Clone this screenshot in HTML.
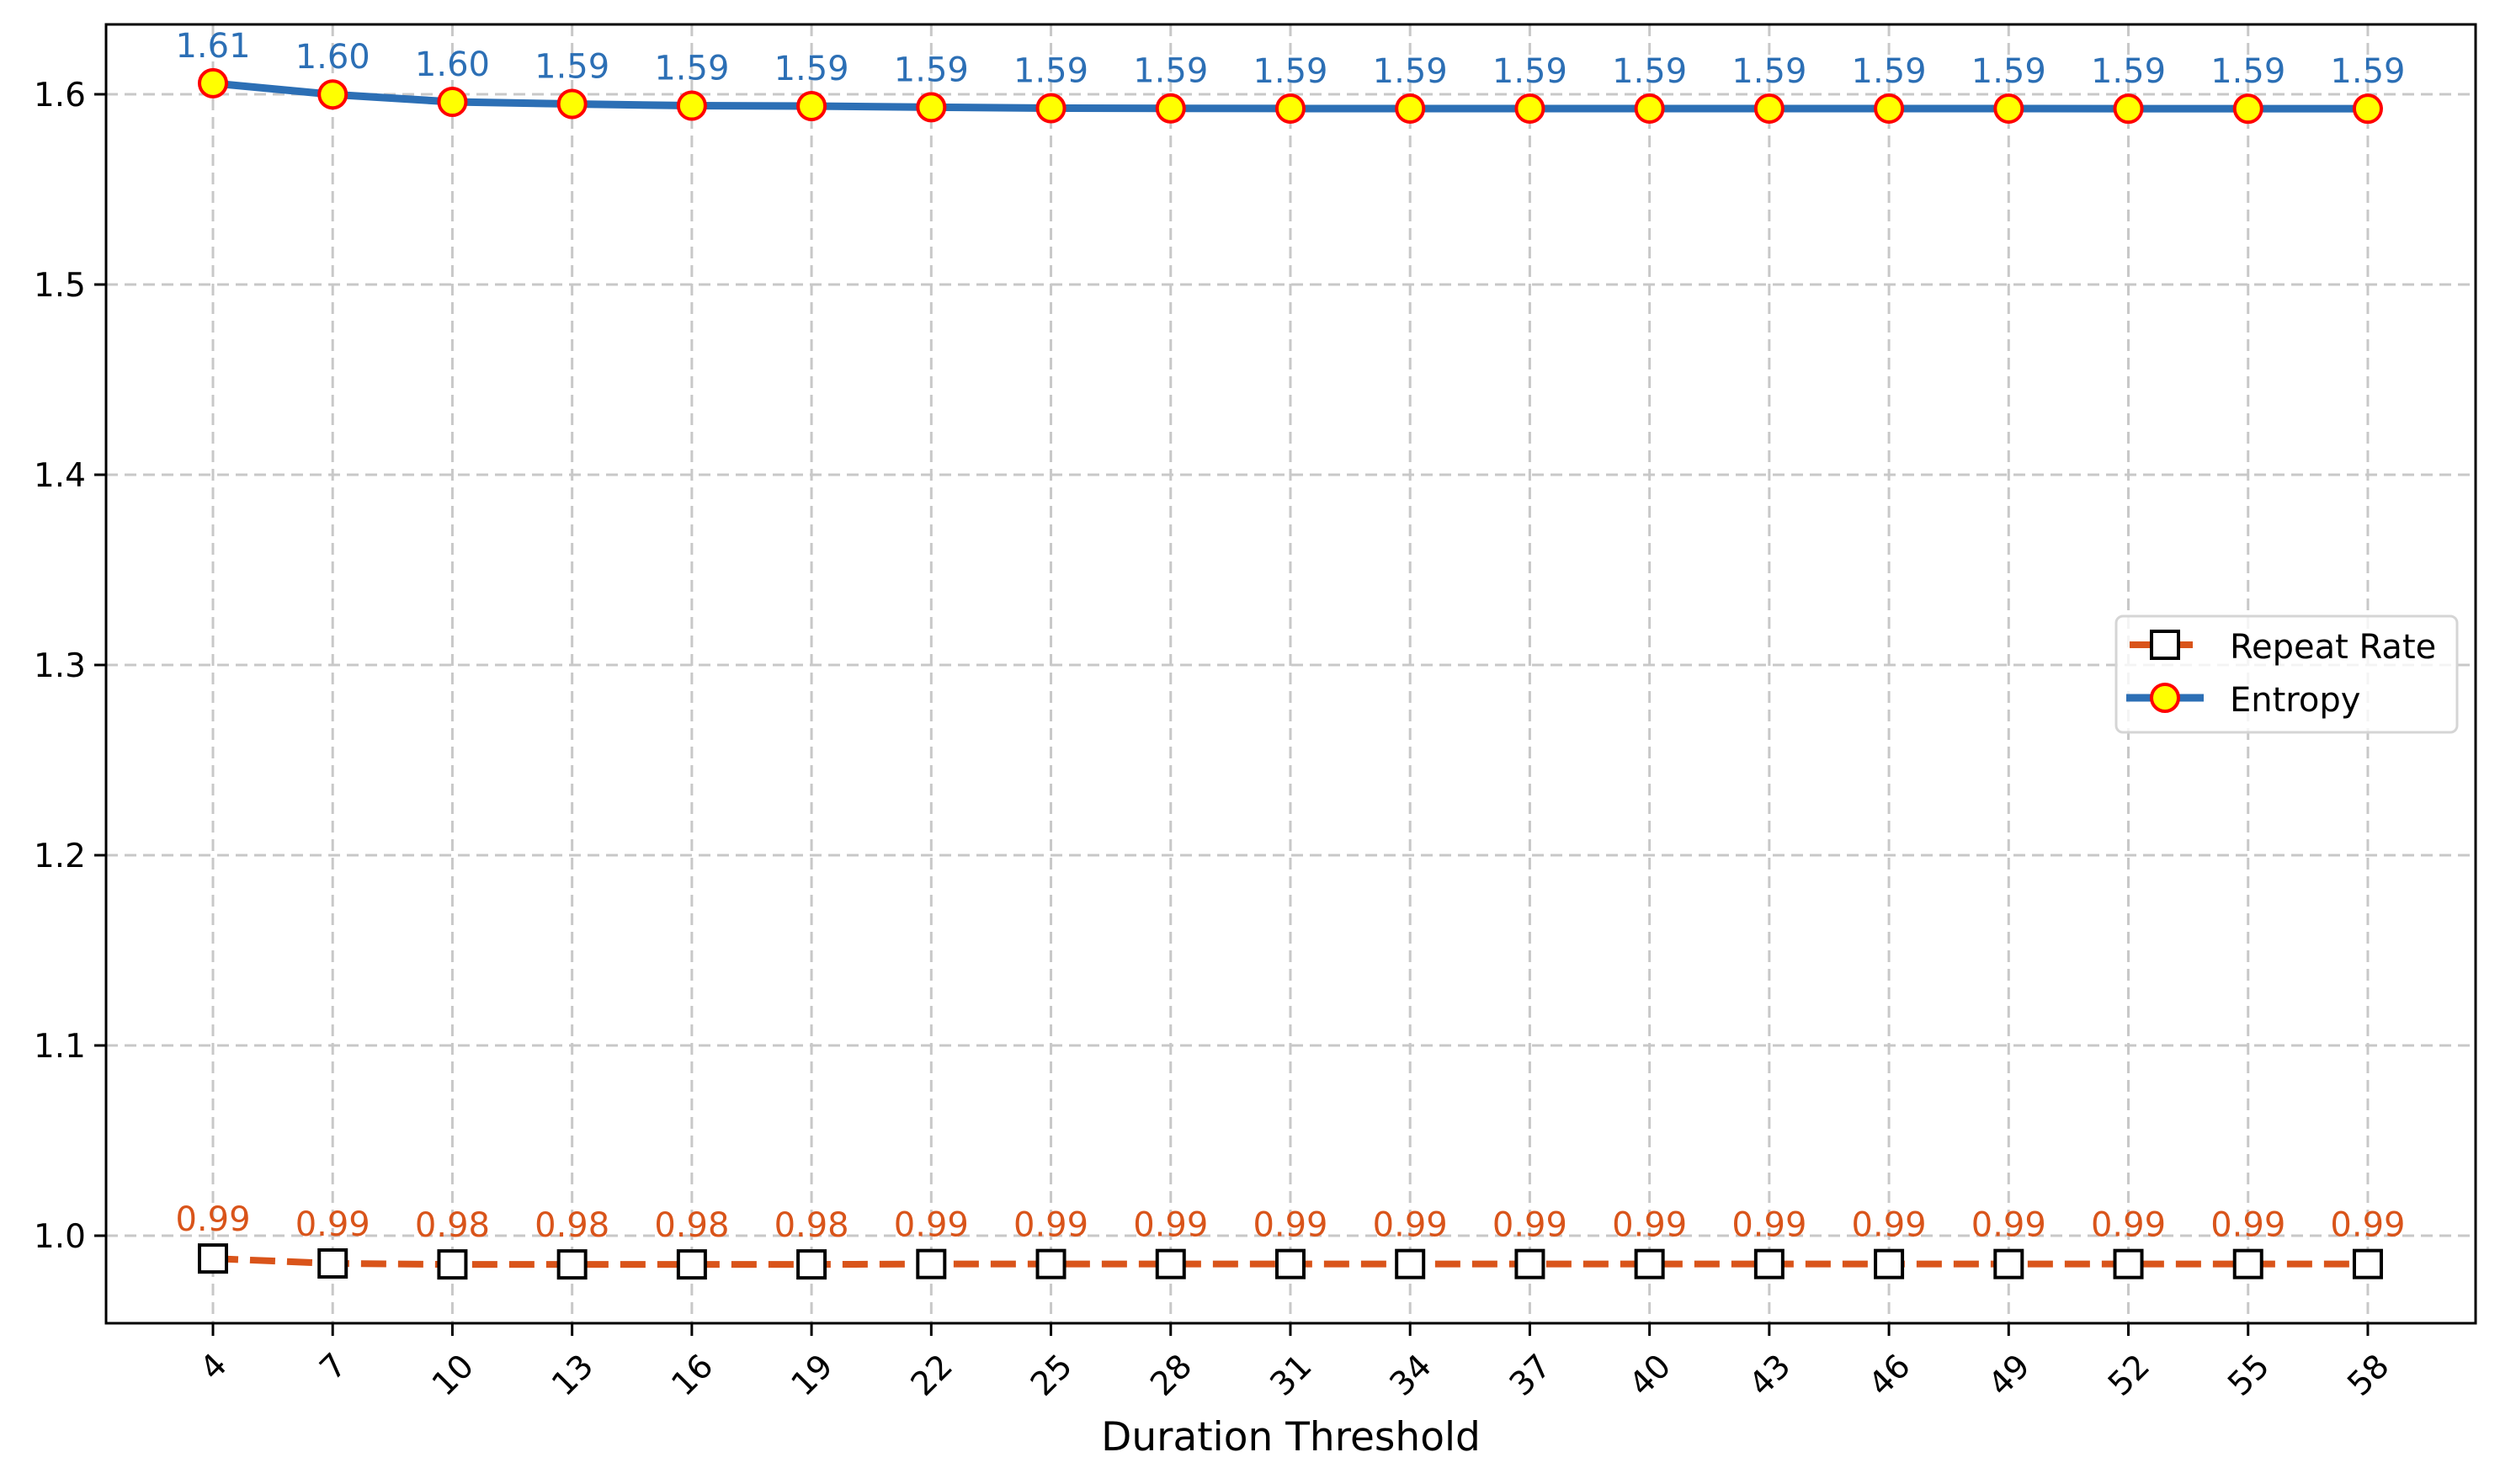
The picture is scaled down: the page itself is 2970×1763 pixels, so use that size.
<!DOCTYPE html>
<html><head><meta charset="utf-8"><style>
html,body{margin:0;padding:0;background:#fff;}
svg{display:block;font-family:"DejaVu Sans","Liberation Sans",sans-serif;}
</style></head><body>
<svg id="chart" width="2970" height="1763" viewBox="0 0 2970 1763" xmlns="http://www.w3.org/2000/svg"></svg>
<script>
const categories = [4,7,10,13,16,19,22,25,28,31,34,37,40,43,46,49,52,55,58];
const entropyValues = [1.6058,1.5999,1.5960,1.5949,1.5940,1.5938,1.5932,1.5927,1.5926,1.5925,1.5925,1.5925,1.5925,1.5925,1.5925,1.5925,1.5924,1.5924,1.5924];
const repeatValues = [0.9880,0.9854,0.9849,0.9849,0.9849,0.9849,0.9851,0.9851,0.9851,0.9851,0.9851,0.9851,0.9851,0.9851,0.9851,0.9851,0.9851,0.9851,0.9851];
const yTicks = [1.0,1.1,1.2,1.3,1.4,1.5,1.6];
const yTickLabels = ["1.0","1.1","1.2","1.3","1.4","1.5","1.6"];

const svg = document.getElementById('chart');
const NS = 'http://www.w3.org/2000/svg';
const L=126, R=2941, T=29, B=1572;
const x0=253, dx=142.22;
function xs(i){ return x0 + i*dx; }
function ys(v){ return 1468 - (v-1.0)*2260; }
function mk(tag, attrs, parent){
  const e=document.createElementNS(NS,tag);
  for(const k in attrs) e.setAttribute(k, attrs[k]);
  (parent||svg).appendChild(e); return e;
}
const BLUE='#2c6fb5', ORANGE='#d9541a';

const grid = mk('g',{});


categories.forEach((c,i)=>{
  const l=mk('line',{x1:xs(i),x2:xs(i),y1:T,y2:B,stroke:'#c8c8c8','stroke-width':3,'stroke-dasharray':'14,8'},grid);
  
  
});
yTicks.forEach(v=>{
  const l=mk('line',{x1:L,x2:R,y1:ys(v),y2:ys(v),stroke:'#c8c8c8','stroke-width':3,'stroke-dasharray':'14,8'},grid);
  
  
});

const rp = mk('polyline',{points:repeatValues.map((v,i)=>xs(i)+','+ys(v)).join(' '),fill:'none',stroke:ORANGE,'stroke-width':8,'stroke-dasharray':'30,14'});


const en = mk('polyline',{points:entropyValues.map((v,i)=>xs(i)+','+ys(v)).join(' '),fill:'none',stroke:BLUE,'stroke-width':9});



repeatValues.forEach((v,i)=>{
  const s=mk('rect',{x:xs(i)-16,y:ys(v)-16,width:32,height:32,fill:'#fff',stroke:'#000','stroke-width':4});
  
  
  const t=mk('text',{x:xs(i),y:ys(v)-33,'text-anchor':'middle','font-size':40,fill:ORANGE});
  t.textContent=v.toFixed(2);
  
  
});
entropyValues.forEach((v,i)=>{
  const c=mk('circle',{cx:xs(i),cy:ys(v),r:16,fill:'#ffff00',stroke:'#ff0000','stroke-width':4});
  
  
  const t=mk('text',{x:xs(i),y:ys(v)-31,'text-anchor':'middle','font-size':40,fill:BLUE});
  t.textContent=v.toFixed(2);
  
  
});

const fr=mk('rect',{x:L,y:T,width:R-L,height:B-T,fill:'none',stroke:'#000','stroke-width':3});



yTicks.forEach((v,i)=>{
  const tk=mk('line',{x1:L-14,x2:L,y1:ys(v),y2:ys(v),stroke:'#000','stroke-width':3});
  
  
  const t=mk('text',{x:L-24,y:ys(v)+14,'text-anchor':'end','font-size':39,fill:'#000'});
  t.textContent=yTickLabels[i];
  
  
});
categories.forEach((c,i)=>{
  const tk=mk('line',{x1:xs(i),x2:xs(i),y1:B,y2:B+15,stroke:'#000','stroke-width':3});
  
  
  const s=String(c);
  const cy = 1600 + (s.length===1?23:33);
  const t=mk('text',{x:xs(i),y:cy+14,'text-anchor':'middle','font-size':39,fill:'#000',transform:'rotate(-45 '+xs(i)+' '+cy+')'});
  t.textContent=s;
  
  
});
const xl=mk('text',{x:(L+R)/2,y:1723,'text-anchor':'middle','font-size':47,fill:'#000'});
xl.textContent='Duration Threshold';



const lg=mk('g',{});


mk('rect',{x:2514,y:732,width:405,height:138,rx:8,fill:'rgba(255,255,255,0.8)',stroke:'#d5d5d5','stroke-width':3},lg);
mk('line',{x1:2530,x2:2605,y1:766,y2:766,stroke:ORANGE,'stroke-width':8},lg);
mk('rect',{x:2556,y:750,width:32,height:32,fill:'#fff',stroke:'#000','stroke-width':4},lg);
const t1=mk('text',{x:2649,y:782,'font-size':40,fill:'#000'},lg);
t1.textContent='Repeat Rate';


mk('line',{x1:2526,x2:2618,y1:829,y2:829,stroke:BLUE,'stroke-width':9},lg);
mk('circle',{cx:2572,cy:829,r:16,fill:'#ffff00',stroke:'#ff0000','stroke-width':4},lg);
const t2=mk('text',{x:2649,y:845,'font-size':40,fill:'#000'},lg);
t2.textContent='Entropy';


</script>
</body></html>
